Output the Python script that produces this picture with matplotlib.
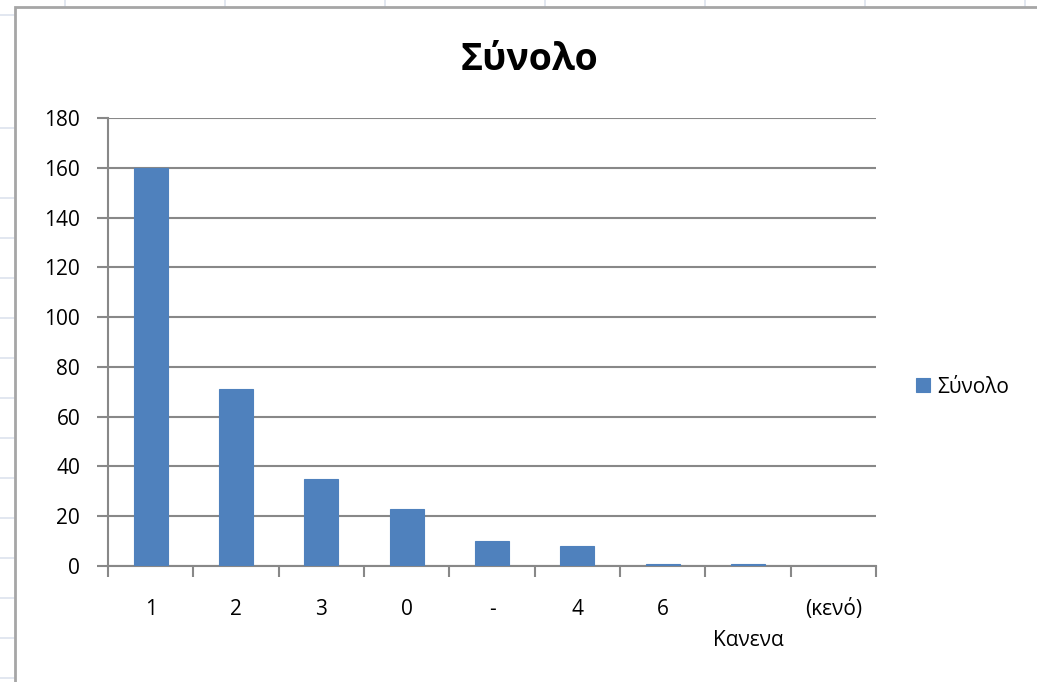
import numpy as np
import matplotlib
matplotlib.use('Agg')
import matplotlib.pyplot as plt
from matplotlib.lines import Line2D
from matplotlib.patches import Rectangle

plt.rcParams['font.family'] = ['Open Sans', 'DejaVu Sans']

# data
categories = ['1', '2', '3', '0', '-', '4', '6', 'Κανενα', '(κενό)']
values = [160, 71, 35, 23, 10, 8, 1, 1, 0]
y_ticks = [0, 20, 40, 60, 80, 100, 120, 140, 160, 180]
title = 'Σύνολο'
series_name = 'Σύνολο'

W, H = 1037, 682
fig = plt.figure(figsize=(W / 100, H / 100), dpi=100)
fig.patch.set_facecolor('white')

def px(x, y):
    # pixel coords (top-left origin) -> figure fraction
    return x / W, 1 - y / H

# spreadsheet grid behind the chart
grid_col = '#dde3ee'
for gx in [65, 225, 385, 545, 705, 865, 1025]:
    fig.add_artist(Line2D([gx / W, gx / W], [1, 1 - 7 / H], color=grid_col, lw=1.2, zorder=-3))
for gy in [15, 128] + list(range(198, 682, 40)):
    fig.add_artist(Line2D([0, 14 / W], [1 - gy / H, 1 - gy / H], color=grid_col, lw=1.2, zorder=-3))

# chart area border
x0, y0 = px(15, 7)
fig.add_artist(Rectangle((x0, -0.1), 1.2, y0 + 0.1, facecolor='white',
                         edgecolor='#a6a6a6', lw=2, transform=fig.transFigure, zorder=-2))

# plot area
l, t = px(108, 118)
r, b = px(876, 566)
ax = fig.add_axes([l, b, r - l, t - b])
ax.set_facecolor('none')

x = np.arange(len(categories))
ax.bar(x, values, width=0.4, color='#4f81bd', edgecolor='#4f81bd', lw=0.8,
       label=series_name, zorder=3)

ax.set_xlim(-0.5, len(categories) - 0.5)
ax.set_ylim(0, 180)
ax.set_yticks(y_ticks)
ax.yaxis.grid(True, color='#888888', lw=1.5, zorder=0)
ax.set_axisbelow(True)

for s in ['top', 'right']:
    ax.spines[s].set_visible(False)
for s in ['left', 'bottom']:
    ax.spines[s].set_color('#888888')
    ax.spines[s].set_linewidth(1.5)

ax.tick_params(axis='y', length=8, width=1.5, color='#888888', labelsize=15,
               pad=12, labelcolor='#000000')
# category boundary ticks
ax.set_xticks(np.arange(len(categories) + 1) - 0.5, minor=True)
ax.tick_params(axis='x', which='minor', length=8, width=1.5, color='#888888')
ax.set_xticks(x)
labels = list(categories)
labels[7] = '\n' + labels[7]
ax.set_xticklabels(labels)
ax.tick_params(axis='x', which='major', length=0, labelsize=15, pad=24,
               labelcolor='#000000')
ax.get_xticklabels()[7].set_linespacing(1.6)

fig.text(530 / W, 1 - 60 / H, title, ha='center', va='center',
         fontsize=27, fontweight='bold', color='#000000')

leg = ax.legend(loc='center left', bbox_to_anchor=(px(916, 387)[0], px(916, 387)[1]),
                bbox_transform=fig.transFigure, frameon=False, fontsize=15,
                handlelength=0.65, handleheight=0.65, handletextpad=0.35,
                borderpad=0, borderaxespad=0)

fig.savefig('out.png', dpi=100)
